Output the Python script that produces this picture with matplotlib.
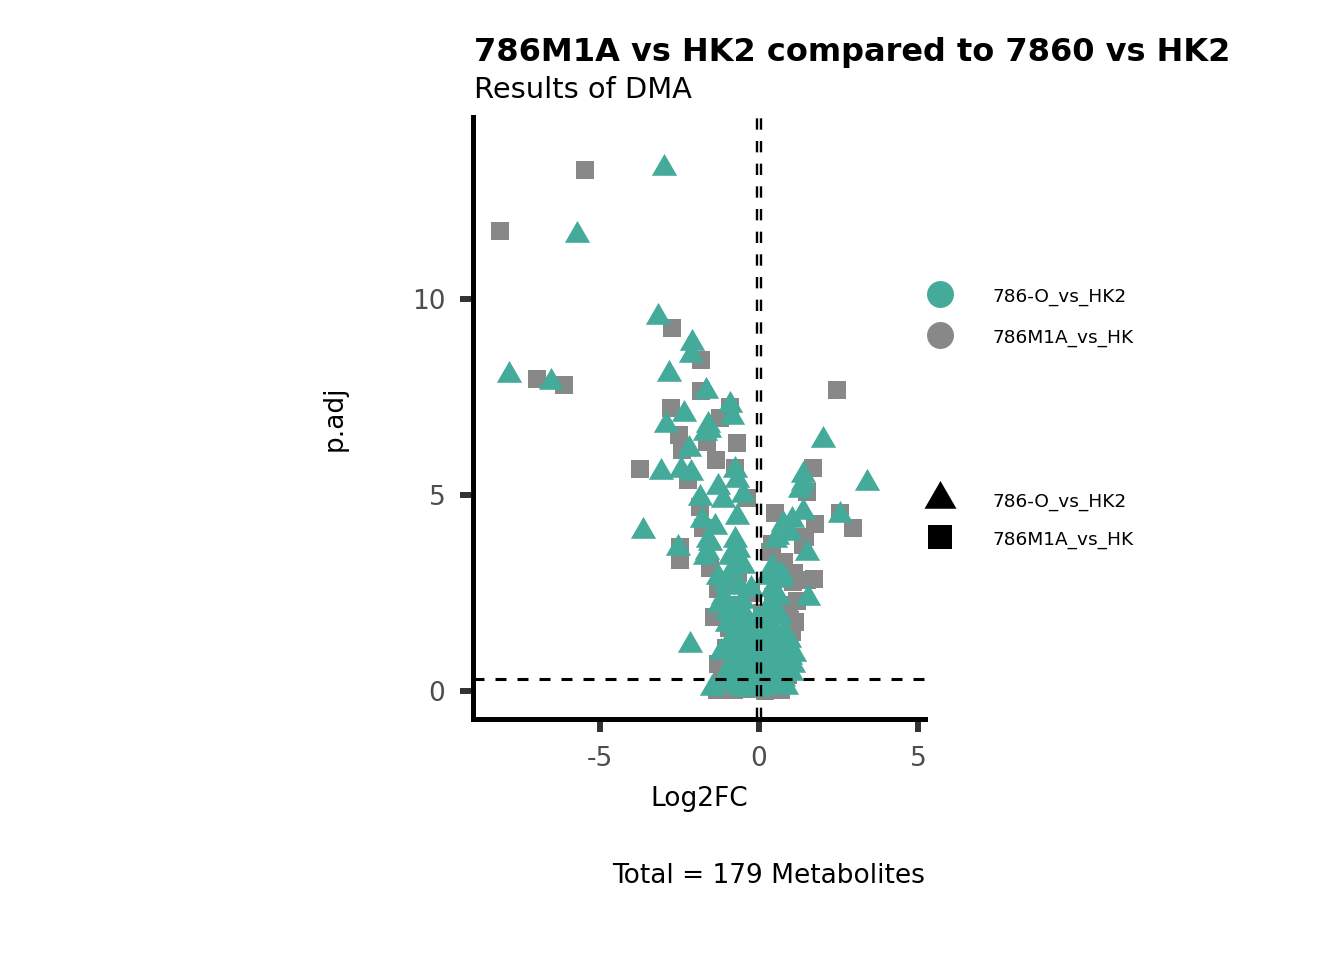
import numpy as np
import matplotlib.pyplot as plt
from matplotlib.lines import Line2D

# Log2FC / p.adj for 786-O_vs_HK2 (triangles, teal)
o_x = [-3.00, -5.71, -3.17, -2.10, -2.15, -7.86, -6.53, -2.83, -1.66, -2.36,
       -2.93, -2.20, -1.57, -3.09, -2.46, -2.15, -0.91, -0.86, -1.59, -1.70,
       -0.75, -0.70, -1.28, -1.86, -1.12, -0.49, -1.80, -1.38, -0.70, -3.66,
       -1.59, -0.75, -2.54, -1.65, -0.81, 0.50, -1.70, -0.91, -1.54, -0.65,
       -1.07, -0.60, -1.12, -1.02, -0.60, -2.17, -0.54, -1.49, 0.40, 0.66,
       1.55, 0.61, 0.66, 0.87, 1.08, 2.00, 1.39, 1.37, 1.29, 3.41,
       1.37, 2.55, 0.77, 1.03, 0.56, 0.97, 1.50, 0.71, 0.97,
       -1.30, -1.25, -1.00, -0.90, -0.80, -0.70, -0.60, -0.50, -0.40, -0.30,
       -0.20, -0.10, -0.95, -1.10, -0.85, -0.65, -0.45, -0.25, -0.35, -0.15,
       -0.45, -0.30, -0.70, -0.20, 0.10, 0.20, 0.30, 0.40, 0.50, 0.60,
       0.70, 0.35, 0.25, 0.15, 0.45, 0.55, 0.30, 0.80, 0.90, 1.00,
       0.75, 0.55, 0.85, 0.20, 0.40, 0.25, -0.55, -0.40, -0.80, -0.90,
       -0.50, -0.25, 0.12, -0.10, 0.05, -0.05, 1.10, 0.95, -1.20, -1.05,
       -0.75, -0.55, 0.65, 0.45, 0.35, -0.35, 0.00, 0.15]
o_y = [13.33, 11.63, 9.55, 8.87, 8.57, 8.06, 7.89, 8.09, 7.66, 7.07,
       6.79, 6.17, 6.66, 5.59, 5.64, 5.56, 7.30, 7.00, 6.79, 6.57,
       5.64, 5.38, 5.21, 4.92, 4.87, 5.00, 4.36, 4.19, 4.45, 4.08,
       3.85, 3.85, 3.64, 3.55, 3.51, 3.85, 3.43, 3.43, 3.78, 3.60,
       2.75, 2.66, 2.41, 2.02, 1.98, 1.17, 1.56, 0.07, 3.17, 2.83,
       2.36, 2.41, 1.90, 0.79, 0.66, 6.40, 5.51, 5.30, 5.13, 5.31,
       4.57, 4.49, 4.27, 4.36, 3.94, 4.02, 3.51, 2.96, 0.88,
       2.90, 2.20, 1.70, 1.30, 1.00, 0.80, 0.60, 0.40, 0.30, 0.20,
       0.15, 0.10, 0.60, 0.35, 0.20, 0.10, 0.05, 0.50, 0.90, 0.70,
       1.20, 1.50, 1.50, 1.10, 0.10, 0.20, 0.35, 0.50, 0.70, 0.90,
       1.10, 1.30, 0.90, 0.60, 1.60, 2.00, 2.20, 1.50, 1.20, 0.45,
       0.30, 0.15, 0.10, 1.80, 2.60, 2.90, 2.30, 1.90, 2.10, 3.00,
       3.20, 2.60, 1.40, 1.80, 0.35, 0.55, 0.95, 1.30, 1.00, 0.25,
       1.20, 0.75, 0.45, 1.10, 0.70, 1.70, 0.05, 0.30]

# Log2FC / p.adj for 786M1A_vs_HK (squares, grey)
m_x = [-5.46, -8.14, -2.75, -1.83, -6.97, -6.13, -1.83, -2.78, -2.52, -3.74,
       -0.91, -1.65, -0.70, -2.43, -1.35, -2.22, -0.75, -0.39, -1.86, 0.50,
       -1.75, -2.48, -2.48, -1.54, -1.17, -1.33, 1.50, 0.97, 2.44, 1.69,
       1.50, 2.55, 2.97, 1.76, 1.45, 1.39, 1.73, 1.08, 1.13, 0.40,
       0.35, -1.23,
       -1.30, -1.15, -1.05, -0.95, -0.85, -0.75, -0.65, -0.90, -0.70, -0.55,
       -0.45, -0.35, -0.20, -0.10, 0.05, 0.15, 0.25, 0.35, 0.45, 0.55,
       0.65, 0.75, 0.85, 0.95, 1.05, 0.30, 0.50, -0.60, 0.10, -0.25,
       -1.40, -1.30, 1.20, 0.80, 1.10, -0.05, 0.70, -0.80, 0.20, -0.40,
       0.00, 0.40, -0.15, 0.60, -0.50, 0.90]
m_y = [13.29, 11.73, 9.26, 8.44, 7.97, 7.81, 7.64, 7.23, 6.53, 5.66,
       7.25, 6.36, 6.33, 6.15, 5.89, 5.38, 5.69, 4.92, 4.70, 4.53,
       4.15, 3.68, 3.34, 3.13, 0.71, 0.02, 2.83, 1.81, 7.68, 5.68,
       5.08, 4.53, 4.15, 4.26, 3.94, 3.72, 2.85, 2.79, 1.77, 3.75,
       3.55, 6.96,
       0.70, 0.30, 1.10, 1.60, 2.20, 2.70, 3.00, 0.20, 0.50, 0.90,
       1.40, 0.05, 0.30, 0.80, 0.10, 0.45, 1.10, 1.70, 2.40, 3.00,
       0.25, 0.60, 1.20, 2.20, 1.50, 0.05, 0.10, 0.15, 2.00, 2.50,
       1.90, 2.60, 2.30, 3.30, 3.00, 1.30, 0.02, 0.03, 0.00, 0.15,
       0.05, 0.02, 0.10, 0.08, 0.06, 0.40]

teal = '#44AA99'
grey = '#888888'
labels = ['786-O_vs_HK2', '786M1A_vs_HK']
tri = [(0, 1), (-0.866, -0.5), (0.866, -0.5)]

fig = plt.figure(figsize=(13.44, 9.6), dpi=100)
ax = fig.add_axes([472.5 / 1344, 1 - 719 / 960, (925 - 472.5) / 1344, (719 - 117) / 960])

ax.scatter(m_x, m_y, marker='s', s=182, color=grey, linewidths=0, zorder=2)
ax.scatter(o_x, o_y, marker=tri, s=441, color=teal, linewidths=0, zorder=3)

ax.axhline(0.3, color='black', lw=2.2, ls=(0, (3.6, 3.6)), zorder=4)
ax.axvline(-0.055, color='black', lw=1.7, ls=(0, (4.8, 4.8)), zorder=4)
ax.axvline(0.055, color='black', lw=1.7, ls=(0, (4.8, 4.8)), zorder=4)

ax.set_xlim(-9.01, 5.22)
ax.set_ylim(-0.714, 14.64)
ax.set_xticks([-5, 0, 5])
ax.set_xticklabels(['-5', '0', '5'])
ax.set_yticks([0, 5, 10])

for s in ['top', 'right']:
    ax.spines[s].set_visible(False)
for s in ['left', 'bottom']:
    ax.spines[s].set_linewidth(3.6)
    ax.spines[s].set_color('black')
ax.tick_params(length=9.5, width=4.3, color='#333333', labelcolor='#4D4D4D',
               labelsize=19, pad=10)

ax.set_xlabel('Log2FC', fontsize=19, labelpad=10)
ax.set_ylabel('p.adj', fontsize=19, labelpad=46)

fig.text(474 / 1344, 1 - 61 / 960, '786M1A vs HK2 compared to 7860 vs HK2',
         fontsize=23, fontweight='bold', va='baseline', ha='left')
fig.text(474 / 1344, 1 - 98.5 / 960, 'Results of DMA', fontsize=20.8,
         va='baseline', ha='left')
fig.text(925 / 1344, 1 - 883 / 960, 'Total = 179 Metabolites', fontsize=19,
         va='baseline', ha='right')

col_handles = [Line2D([], [], ls='', marker='o', ms=19.4, color=teal, mew=0),
               Line2D([], [], ls='', marker='o', ms=19.4, color=grey, mew=0)]
shp_handles = [Line2D([], [], ls='', marker=tri, ms=37 / 1.389, color='black', mew=0),
               Line2D([], [], ls='', marker='s', ms=17.3, color='black', mew=0)]

leg1 = fig.legend(col_handles, labels, loc='upper left',
                  bbox_to_anchor=(921.5 / 1344, 1 - 286 / 960), frameon=False,
                  fontsize=13.3, handlelength=2, handleheight=1.2,
                  handletextpad=1.87, labelspacing=1.15, borderpad=0, borderaxespad=0)
leg2 = fig.legend(shp_handles, labels, loc='upper left',
                  bbox_to_anchor=(921.5 / 1344, 1 - 491 / 960), frameon=False,
                  fontsize=13.3, handlelength=2, handleheight=1.2,
                  handletextpad=1.87, labelspacing=1.0, borderpad=0, borderaxespad=0)

fig.savefig('out.png', dpi=100)
